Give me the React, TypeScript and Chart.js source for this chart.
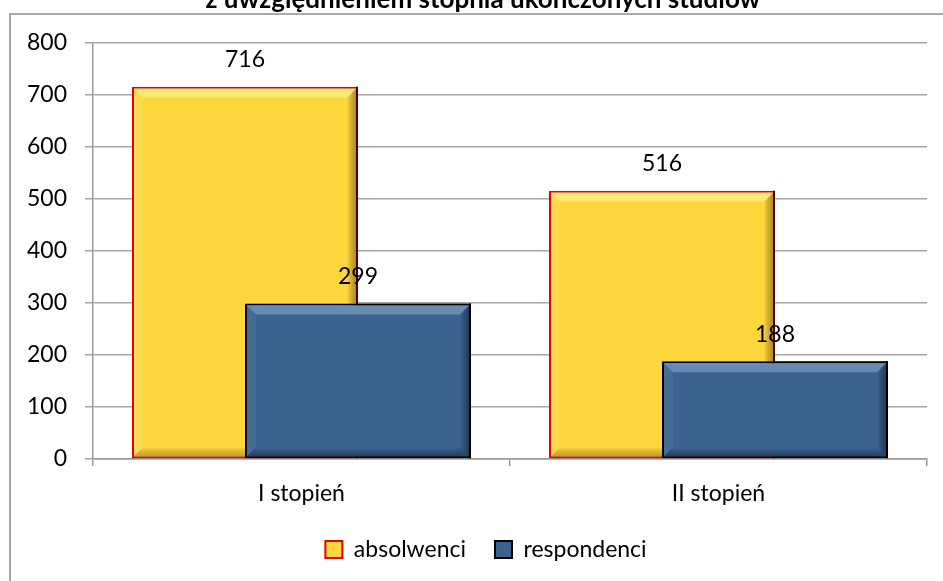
import React, { useEffect, useRef } from "react";
import { Chart, registerables } from "chart.js";

Chart.register(...registerables);

const titleText = "z uwzględnieniem stopnia ukończonych studiów";
const categories = ["I stopień", "II stopień"];
const absolwenci = [716, 516];
const respondenci = [299, 188];
const seriesNames = ["absolwenci", "respondenci"];
const yTicks = { min: 0, max: 800, step: 100 };

const FONT = "Lato";
const CANVAS_W = 943;
const CANVAS_H = 620;
const OFFSET_Y = 16;

const bevelStyles = [
  {
    top: "rgba(255,250,170,0.55)",
    left: "rgba(255,255,255,0.10)",
    right: "rgba(90,50,0,0.45)",
    bottom: "rgba(90,60,0,0.35)",
    edge: "rgba(70,0,0,0.95)",
  },
  {
    top: "rgba(190,215,250,0.35)",
    left: "rgba(255,255,255,0.06)",
    right: "rgba(0,10,30,0.45)",
    bottom: "rgba(0,10,30,0.40)",
    edge: "rgba(0,0,0,1)",
  },
];

function poly(ctx: CanvasRenderingContext2D, pts: number[][], fill: string | CanvasGradient) {
  ctx.beginPath();
  ctx.moveTo(pts[0][0], pts[0][1]);
  for (let i = 1; i < pts.length; i++) ctx.lineTo(pts[i][0], pts[i][1]);
  ctx.closePath();
  ctx.fillStyle = fill;
  ctx.fill();
}

function drawBevel(ctx: CanvasRenderingContext2D, bar: any, st: any) {
  const bw = 2;
  const s = 9;
  const { x, y, base, width } = bar.getProps(["x", "y", "base", "width"], true);
  const l = x - width / 2 + bw;
  const r = x + width / 2 - bw;
  const t = y + bw;
  const b = base - bw;
  poly(ctx, [[l, t], [r, t], [r - s, t + s], [l + s, t + s]], st.top);
  poly(ctx, [[l, t], [l + s, t + s], [l + s, b - s], [l, b]], st.left);
  const gr = ctx.createLinearGradient(r - s, 0, r, 0);
  gr.addColorStop(0, "rgba(0,0,0,0)");
  gr.addColorStop(1, st.right);
  poly(ctx, [[r, t], [r, b], [r - s, b - s], [r - s, t + s]], gr);
  const gb = ctx.createLinearGradient(0, b - s, 0, b);
  gb.addColorStop(0, "rgba(0,0,0,0)");
  gb.addColorStop(1, st.bottom);
  poly(ctx, [[l, b], [r, b], [r - s, b - s], [l + s, b - s]], gb);
  ctx.fillStyle = st.edge;
  ctx.fillRect(x + width / 2 - bw, y, bw, base - y);
}

const framePlugin = {
  id: "frame",
  afterLayout(chart: any) {
    const t = chart.titleBlock;
    if (t) {
      t.left = 39;
      t.right = 927;
    }
    const lg = chart.legend;
    if (lg) {
      lg.left = 45;
      lg.right = 927;
    }
  },
  beforeDraw(chart: any) {
    const ctx = chart.ctx;
    ctx.save();
    ctx.strokeStyle = "#8f8f8f";
    ctx.lineWidth = 1.6;
    ctx.beginPath();
    ctx.moveTo(10, CANVAS_H + 10);
    ctx.lineTo(10, 14 + OFFSET_Y);
    ctx.lineTo(CANVAS_W + 10, 14 + OFFSET_Y);
    ctx.stroke();
    ctx.restore();
  },
};

const bevelPlugin = {
  id: "bevel",
  afterDatasetDraw(chart: any, args: any) {
    if (args.index !== 0) return;
    const meta = chart.getDatasetMeta(0);
    const ctx = chart.ctx;
    ctx.save();
    meta.data.forEach((bar: any) => drawBevel(ctx, bar, bevelStyles[0]));
    ctx.restore();
  },
  afterDatasetsDraw(chart: any) {
    // the second series sits in front of the first
    const meta = chart.getDatasetMeta(1);
    const ctx = chart.ctx;
    ctx.save();
    meta.data.forEach((bar: any) => {
      bar.draw(ctx);
      drawBevel(ctx, bar, bevelStyles[1]);
    });
    ctx.restore();
  },
};

const labelPlugin = {
  id: "valueLabels",
  afterDatasetsDraw(chart: any) {
    const ctx = chart.ctx;
    ctx.save();
    ctx.font = `23px ${FONT}`;
    ctx.fillStyle = "#000";
    ctx.textAlign = "center";
    ctx.textBaseline = "middle";
    chart.data.datasets.forEach((ds: any, i: number) => {
      const meta = chart.getDatasetMeta(i);
      meta.data.forEach((bar: any, j: number) => {
        const { x, y } = bar.getProps(["x", "y"], true);
        ctx.fillText(String(ds.data[j]), x, y - 27);
      });
    });
    ctx.restore();
  },
};

export default function App() {
  const ref = useRef<HTMLCanvasElement | null>(null);

  useEffect(() => {
    if (!ref.current) return;
    const chart = new Chart(ref.current, {
      type: "bar",
      data: {
        labels: categories,
        datasets: [
          {
            label: seriesNames[0],
            data: absolwenci,
            backgroundColor: "#FDD63B",
            borderColor: "#E60000",
            borderWidth: 2,
            borderSkipped: false,
            categoryPercentage: 0.542,
            barPercentage: 2.0,
          },
          {
            label: seriesNames[1],
            data: respondenci,
            backgroundColor: "#3B6390",
            borderColor: "#000000",
            borderWidth: 2,
            borderSkipped: false,
            categoryPercentage: 0.542,
            barPercentage: 2.0,
          },
        ],
      },
      options: {
        animation: false,
        responsive: false,
        layout: { padding: { left: 0, right: 16, top: 0, bottom: 33 } },
        plugins: {
          title: {
            display: true,
            text: titleText,
            color: "#000",
            font: { family: FONT, size: 26, weight: "bold", lineHeight: 1.2 },
            padding: { top: 0.1, bottom: 27.7 },
          },
          legend: {
            display: true,
            position: "bottom",
            labels: {
              color: "#000",
              font: { family: FONT, size: 23 },
              boxWidth: 17,
              boxHeight: 17,
              padding: 29,
            },
          },
          tooltip: { enabled: false },
        },
        scales: {
          x: {
            grid: {
              display: true,
              drawOnChartArea: false,
              drawTicks: true,
              tickLength: 7,
              color: "#999999",
              lineWidth: 1.5,
            },
            border: { display: true, color: "#999999", width: 1.5 },
            ticks: { color: "#000", font: { family: FONT, size: 23 }, padding: 14 },
            afterFit: (scale: any) => {
              scale.height = 50;
            },
          },
          y: {
            min: yTicks.min,
            max: yTicks.max,
            grid: { color: "#a6a6a6", lineWidth: 1.5, tickLength: 8 },
            border: { display: true, color: "#999999", width: 1.5 },
            ticks: {
              stepSize: yTicks.step,
              color: "#000",
              font: { family: FONT, size: 23 },
              padding: 18,
            },
            afterFit: (scale: any) => {
              scale.width = 93;
            },
          },
        },
      },
      plugins: [framePlugin, bevelPlugin, labelPlugin],
    });
    return () => chart.destroy();
  }, []);

  return (
    <div
      style={{
        position: "fixed",
        left: 0,
        top: 0,
        width: CANVAS_W,
        height: 581,
        overflow: "clip",
        background: "#fff",
      }}
    >
      <canvas
        ref={ref}
        width={CANVAS_W}
        height={CANVAS_H}
        style={{ position: "absolute", left: 0, top: -OFFSET_Y, width: CANVAS_W, height: CANVAS_H, display: "block" }}
      />
    </div>
  );
}
